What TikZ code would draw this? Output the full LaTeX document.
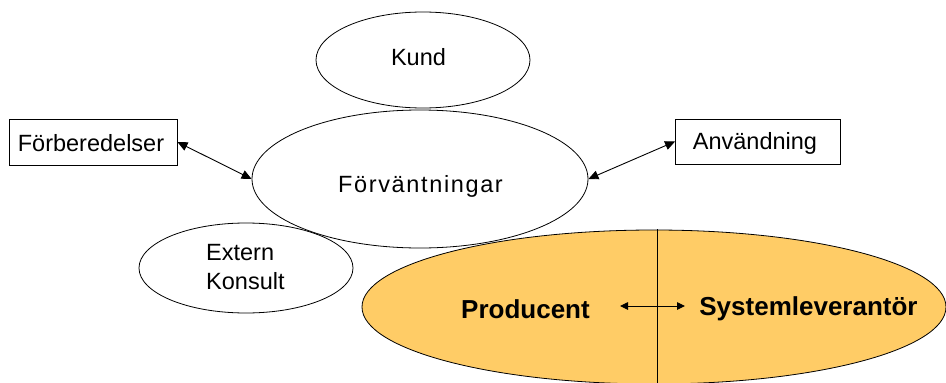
\documentclass[tikz,border=0pt]{standalone}
\usepackage{fontspec}
\setmainfont{Liberation Sans}
\usetikzlibrary{shapes.geometric,arrows.meta}
\definecolor{fillorange}{RGB}{255,204,102}
\tikzset{
  oval/.style={ellipse, draw=black, line width=0.8pt, inner sep=0pt},
  labelbox/.style={rectangle, draw=black, line width=0.9pt, inner sep=0pt},
  txt/.style={inner sep=0pt, font=\fontsize{23.5}{27}\selectfont},
  boldtxt/.style={inner sep=0pt, font=\fontsize{26}{30}\selectfont\bfseries},
  link/.style={line width=0.9pt, {Triangle[length=10pt,width=9pt]}-{Triangle[length=10pt,width=9pt]}},
  shortlink/.style={line width=0.9pt, {Triangle[length=8pt,width=7.5pt]}-{Triangle[length=8pt,width=7.5pt]}}
}
\begin{document}
\begin{tikzpicture}[x=1pt,y=-1pt]
  \clip (0,0) rectangle (946,383);
  \fill[white] (0,0) rectangle (946,383);

  % outline ovals
  \node[oval, minimum width=214pt, minimum height=96pt] (kund) at (423,60) {};
  \node[oval, minimum width=336pt, minimum height=138pt] (fv) at (420,179) {};
  \node[oval, minimum width=214pt, minimum height=90pt] (ek) at (246,268) {};

  % side boxes
  \node[labelbox, minimum width=168pt, minimum height=46pt] (fb) at (93,142) {};
  \node[labelbox, minimum width=165pt, minimum height=45pt] (an) at (758,141.5) {};

  % labels
  \node[txt] (kundt) at (418.5,57.5) {Kund};
  \node[txt] (fvt) at (420.5,186) {\addfontfeature{LetterSpace=7}Förväntningar};
  \node[txt, align=left, anchor=west] (ekt) at (206,267) {Extern\\[2pt]Konsult};
  \node[txt] (fbt) at (91,143) {Förberedelser};
  \node[txt] (ant) at (755,143) {Användning};

  % two-way links to the central oval
  \draw[link] (fb.east) -- (fv.west);
  \draw[link] (an.west) -- (fv.east);

  % filled oval in front
  \node[ellipse, draw=black, line width=0.8pt, fill=fillorange, inner sep=0pt,
        minimum width=584pt, minimum height=154pt] (ps) at (654,307) {};
  \coordinate (divtop) at (657,229);
  \coordinate (divbot) at (657,390);
  \draw[line width=0.9pt] (divtop) -- (divbot);

  \node[boldtxt] (pr) at (525.5,309) {Producent};
  \node[boldtxt] (sy) at (808.5,309) {Systemleverantör};
  \coordinate (pa) at (620,306);
  \coordinate (pb) at (685,306);
  \draw[shortlink] (pa) -- (pb);
\end{tikzpicture}
\end{document}
